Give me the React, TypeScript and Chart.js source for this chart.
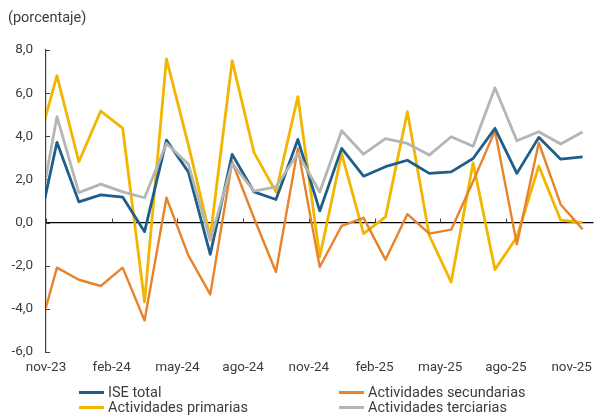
import React, { useEffect, useRef } from 'react';
import { Chart, registerables } from 'chart.js';

Chart.register(...registerables);

// Monthly series, index 0 = oct-23 ... index 25 = nov-25 (oct-23 only partly visible, clipped at axis)
const months = [
  'oct-23', 'nov-23', 'dic-23', 'ene-24', 'feb-24', 'mar-24', 'abr-24', 'may-24', 'jun-24',
  'jul-24', 'ago-24', 'sep-24', 'oct-24', 'nov-24', 'dic-24', 'ene-25', 'feb-25', 'mar-25',
  'abr-25', 'may-25', 'jun-25', 'jul-25', 'ago-25', 'sep-25', 'oct-25', 'nov-25',
];
const tickLabels = ['nov-23', 'feb-24', 'may-24', 'ago-24', 'nov-24', 'feb-25', 'may-25', 'ago-25', 'nov-25'];
const tickMonthIndex = [1, 4, 7, 10, 13, 16, 19, 22, 25];

const iseTotal = [
  -1.0, 3.72, 0.96, 1.28, 1.18, -0.42, 3.82, 2.35, -1.47, 3.16, 1.42, 1.07, 3.85,
  0.54, 3.44, 2.15, 2.59, 2.89, 2.28, 2.35, 2.97, 4.37, 2.28, 3.95, 2.94, 3.05,
];
const primarias = [
  3.15, 6.81, 2.82, 5.17, 4.38, -3.68, 7.59, 3.6, -0.67, 7.51, 3.24, 1.42, 5.84,
  -1.59, 3.2, -0.51, 0.26, 5.14, -0.6, -2.76, 2.77, -2.18, -0.67, 2.62, 0.11, 0.0,
];
const secundarias = [
  -5.75, -2.09, -2.65, -2.94, -2.09, -4.54, 1.15, -1.52, -3.33, 2.82, 0.2, -2.29, 3.44,
  -2.06, -0.15, 0.22, -1.72, 0.39, -0.51, -0.33, 1.9, 4.26, -1.01, 3.7, 0.84, -0.31,
];
const terciarias = [
  -0.67, 4.91, 1.39, 1.78, 1.42, 1.15, 3.67, 2.71, -0.82, 2.74, 1.46, 1.66, 3.2,
  1.42, 4.26, 3.17, 3.89, 3.67, 3.13, 3.98, 3.54, 6.25, 3.79, 4.21, 3.64, 4.2,
];
const yTickValues = [-6, -4, -2, 0, 2, 4, 6, 8];

const FONT = 'Roboto, "Open Sans", sans-serif';
const TEXT = '#3c3c3c';
const C_ISE = '#1d5f8a';
const C_PRI = '#f2b600';
const C_SEC = '#e8832a';
const C_TER = '#b5b5b5';

export default function App() {
  const ref = useRef<HTMLCanvasElement>(null);

  useEffect(() => {
    const canvas = ref.current;
    if (!canvas) return;

    const toPoints = (arr: number[]) => arr.map((v, i) => ({ x: i, y: v }));

    const legendItems = [
      { label: 'ISE total', color: C_ISE, col: 0, row: 0 },
      { label: 'Actividades primarias', color: C_PRI, col: 0, row: 1 },
      { label: 'Actividades secundarias', color: C_SEC, col: 1, row: 0 },
      { label: 'Actividades terciarias', color: C_TER, col: 1, row: 1 },
    ];

    const customPlugin = {
      id: 'customAxes',
      beforeDatasetsDraw(chart: any) {
        const { ctx, chartArea, scales } = chart;
        const x = scales.x;
        const y = scales.y;
        const y0 = y.getPixelForValue(0);
        ctx.save();
        ctx.strokeStyle = '#000';
        ctx.lineWidth = 1.3;
        ctx.beginPath();
        ctx.moveTo(chartArea.left, y0);
        ctx.lineTo(chartArea.right, y0);
        ctx.stroke();
        ctx.lineWidth = 1;
        ctx.strokeStyle = '#404040';
        tickMonthIndex.forEach((m) => {
          const px = Math.round(x.getPixelForValue(m - 0.5)) + 0.5;
          ctx.beginPath();
          ctx.moveTo(px, y0);
          ctx.lineTo(px, y0 - 4);
          ctx.stroke();
        });
        yTickValues.forEach((v) => {
          const py = Math.round(y.getPixelForValue(v)) + 0.5;
          ctx.beginPath();
          ctx.moveTo(chartArea.left, py);
          ctx.lineTo(chartArea.left + 4, py);
          ctx.stroke();
        });
        ctx.restore();
      },
      afterDraw(chart: any) {
        const { ctx } = chart;
        ctx.save();
        ctx.fillStyle = TEXT;
        ctx.font = `14.5px ${FONT}`;
        ctx.textBaseline = 'middle';
        ctx.textAlign = 'left';
        ctx.fillText('(porcentaje)', 8, 18);
        const colX = [79, 339];
        const rowY = [392.5, 407.5];
        legendItems.forEach((it) => {
          const lx = colX[it.col];
          const ly = rowY[it.row];
          ctx.strokeStyle = it.color;
          ctx.lineWidth = 3;
          ctx.beginPath();
          ctx.moveTo(lx, ly);
          ctx.lineTo(lx + 25, ly);
          ctx.stroke();
          ctx.fillStyle = TEXT;
          ctx.fillText(it.label, lx + 29, ly + 1);
        });
        ctx.restore();
      },
    };

    const chart = new Chart(canvas, {
      type: 'line',
      data: {
        datasets: [
          { label: 'Actividades terciarias', data: toPoints(terciarias), borderColor: C_TER, borderWidth: 2.8 },
          { label: 'ISE total', data: toPoints(iseTotal), borderColor: C_ISE, borderWidth: 2.8 },
          { label: 'Actividades secundarias', data: toPoints(secundarias), borderColor: C_SEC, borderWidth: 2.4 },
          { label: 'Actividades primarias', data: toPoints(primarias), borderColor: C_PRI, borderWidth: 2.8 },
        ].map((d) => ({
          ...d,
          pointRadius: 0,
          pointHoverRadius: 0,
          tension: 0,
          fill: false,
          clip: 0,
          borderJoinStyle: 'round' as const,
        })),
      },
      options: {
        responsive: false,
        animation: false,
        events: [],
        layout: { padding: { top: 50, right: 3, left: 0, bottom: 0 } },
        plugins: {
          legend: { display: false },
          tooltip: { enabled: false },
          title: { display: false },
        },
        scales: {
          x: {
            type: 'linear',
            min: 0.5,
            max: 25.5,
            grid: { display: false, drawTicks: false },
            border: { display: false },
            afterFit: (scale: any) => {
              scale.height = 63;
            },
            afterBuildTicks: (scale: any) => {
              scale.ticks = tickMonthIndex.map((m) => ({ value: m - 0.5 }));
            },
            ticks: {
              autoSkip: false,
              maxRotation: 0,
              minRotation: 0,
              padding: 8,
              color: TEXT,
              font: { family: FONT, size: 13.5 },
              callback: (_v: any, i: number) => tickLabels[i] ?? months[0],
            },
          },
          y: {
            min: -6,
            max: 8,
            grid: { display: false, drawTicks: false },
            border: { display: true, color: '#404040', width: 1.2 },
            afterFit: (scale: any) => {
              scale.width = 46;
            },
            afterBuildTicks: (scale: any) => {
              scale.ticks = yTickValues.map((v) => ({ value: v }));
            },
            ticks: {
              padding: 13,
              color: TEXT,
              font: { family: FONT, size: 13.5 },
              callback: (v: any) => Number(v).toFixed(1).replace('.', ','),
            },
          },
        },
      },
      plugins: [customPlugin],
    } as any);

    return () => chart.destroy();
  }, []);

  return (
    <div style={{ position: 'fixed', left: 0, top: 0, width: 600, height: 415, background: '#fff' }}>
      <canvas ref={ref} width={600} height={415} style={{ display: 'block' }} />
    </div>
  );
}
